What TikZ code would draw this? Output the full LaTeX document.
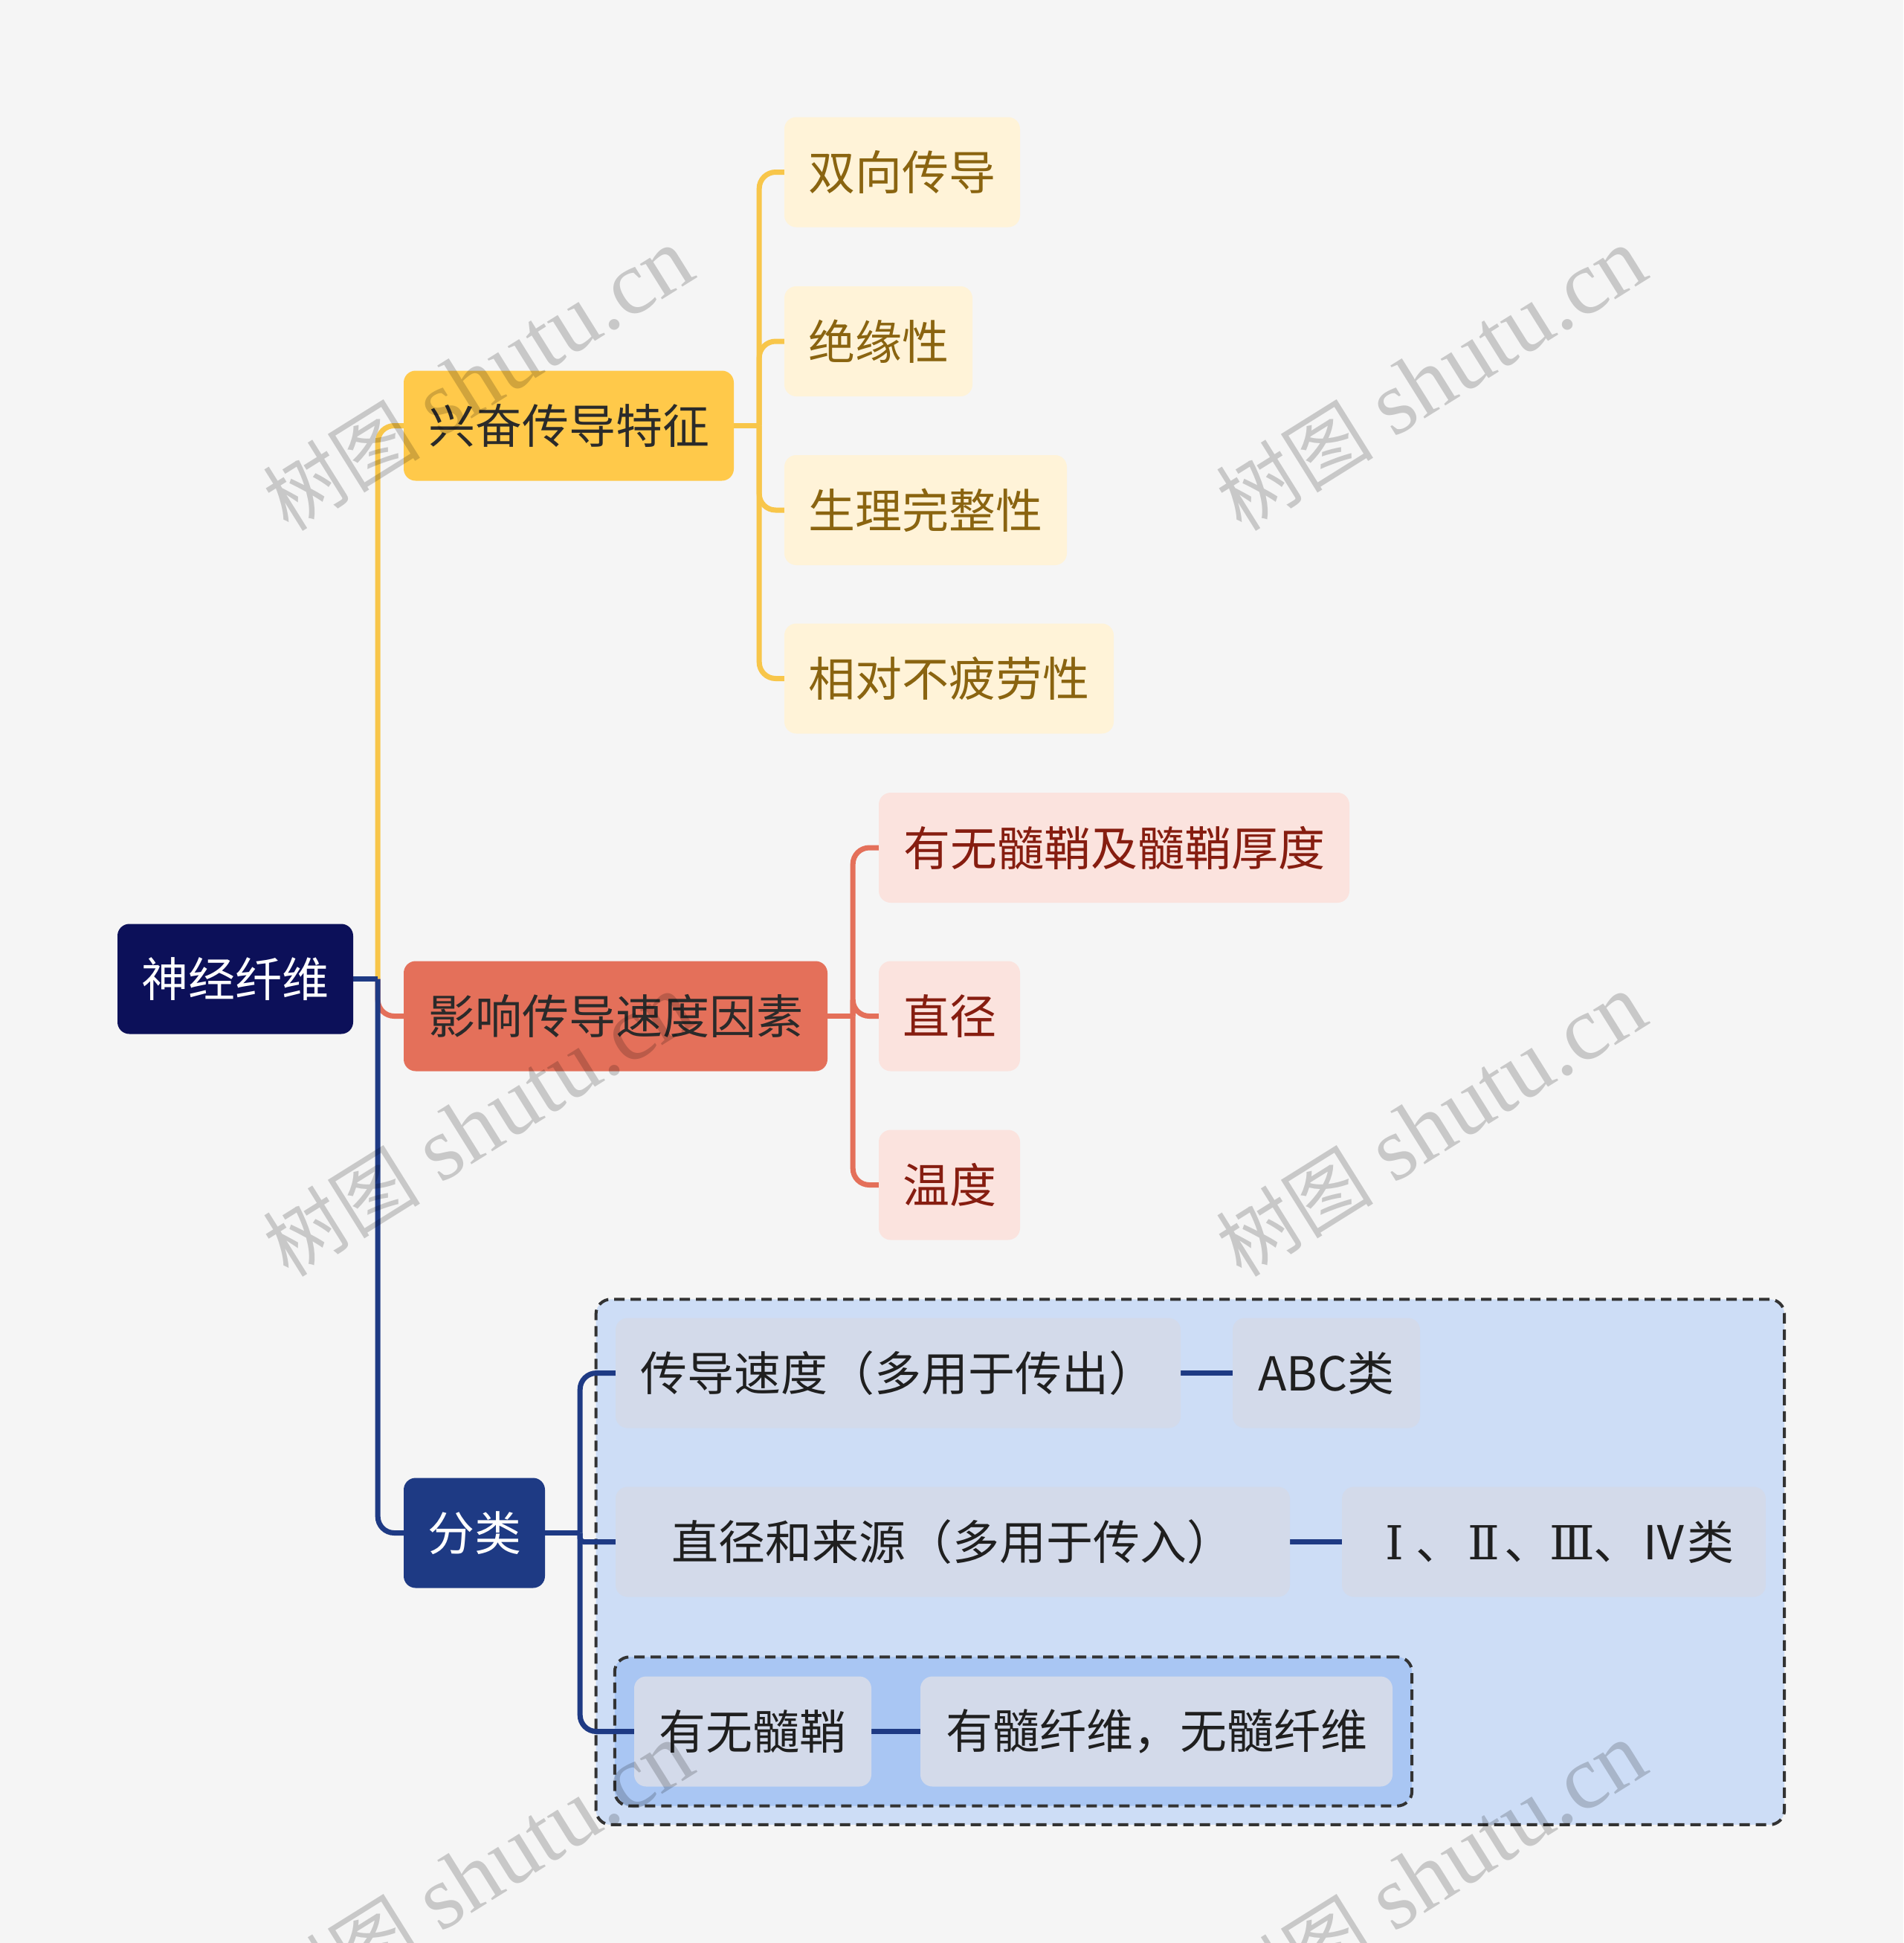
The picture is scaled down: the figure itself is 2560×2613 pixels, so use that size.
\documentclass[tikz,border=0pt]{standalone}
\usepackage{fontspec}
\setmainfont{Noto Sans CJK SC}
\newfontfamily\wmlatin{Liberation Serif}
\newfontfamily\wmcjk{Noto Sans CJK SC}
\newfontfamily\romanfont{DejaVu Serif}
\newcommand\romnum[1]{\makebox[0.9em]{\romanfont #1}}
\usetikzlibrary{fit}
\pgfdeclarelayer{bg}
\pgfdeclarelayer{mid}
\pgfdeclarelayer{wm}
\pgfsetlayers{bg,mid,main,wm}
\definecolor{bgc}{HTML}{F5F5F5}
\definecolor{rootc}{HTML}{0C1059}
\definecolor{yel}{HTML}{FFC94A}
\definecolor{ylinec}{HTML}{F8C64A}
\definecolor{yleaf}{HTML}{FFF3D8}
\definecolor{ytext}{HTML}{8A6410}
\definecolor{redc}{HTML}{E4705A}
\definecolor{rleaf}{HTML}{FBE3DE}
\definecolor{rtext}{HTML}{861D10}
\definecolor{bluc}{HTML}{1E3A84}
\definecolor{bleaf}{HTML}{D3DAEA}
\definecolor{contc}{HTML}{CDDDF6}
\definecolor{innerc}{HTML}{A9C6F3}
\definecolor{darkc}{HTML}{2A2A2A}
\definecolor{dashc}{HTML}{333333}
\tikzset{
  mbox/.style={rounded corners=16pt, inner sep=0pt, minimum height=148pt,
    font=\fontsize{63}{70}\selectfont, align=center},
  rootbox/.style={mbox, fill=rootc, text=white},
  ybig/.style={mbox, fill=yel, text=darkc},
  rbig/.style={mbox, fill=redc, text=darkc},
  bbig/.style={mbox, fill=bluc, text=white},
  yleafbox/.style={mbox, fill=yleaf, text=ytext},
  rleafbox/.style={mbox, fill=rleaf, text=rtext},
  bleafbox/.style={mbox, fill=bleaf, text=black!88},
  yconn/.style={draw=ylinec, line width=7pt, rounded corners=22pt},
  rconn/.style={draw=redc, line width=7pt, rounded corners=22pt},
  bconn/.style={draw=bluc, line width=7pt, rounded corners=22pt},
  groupbox/.style={draw=dashc, line width=4pt, dash pattern=on 14pt off 8pt, rounded corners=20pt, inner sep=25pt},
  wmark/.style={rotate=32, text=black, text opacity=0.18, inner sep=0pt}
}
\begin{document}
\begin{tikzpicture}[x=1pt,y=-1pt]
\useasboundingbox (0,0) rectangle (2560,2613);
\begin{pgfonlayer}{bg}
\fill[bgc] (0,0) rectangle (2560,2613);
\end{pgfonlayer}

% root and first level
\node[rootbox, minimum width=317pt] (root) at (316.5,1316.5) {神经纤维};
\node[ybig, minimum width=444pt] (n1) at (765,572.5) {兴奋传导特征};
\node[rbig, minimum width=570pt] (n2) at (828,1366.5) {影响传导速度因素};
\node[bbig, minimum width=190pt] (n3) at (638,2061.5) {分类};

% yellow leaves
\node[yleafbox, minimum width=317pt] (y1) at (1213.5,231.5) {双向传导};
\node[yleafbox, minimum width=253pt] (y2) at (1181.5,459) {绝缘性};
\node[yleafbox, minimum width=380pt] (y3) at (1245,686) {生理完整性};
\node[yleafbox, minimum width=443pt] (y4) at (1276.5,912.5) {相对不疲劳性};

% red leaves
\node[rleafbox, minimum width=633pt] (r1) at (1498.5,1140) {有无髓鞘及髓鞘厚度};
\node[rleafbox, minimum width=190pt] (r2) at (1277,1366.5) {直径};
\node[rleafbox, minimum width=190pt] (r3) at (1277,1593.5) {温度};

% blue leaves
\node[bleafbox, minimum width=760pt] (b1) at (1208,1846.5) {传导速度（多用于传出）};
\node[bleafbox, minimum width=252pt] (b1r) at (1784,1846.5) {ABC类};
\node[bleafbox, minimum width=907pt] (b2) at (1281.5,2073.5) {直径和来源（多用于传入）};
\node[bleafbox, minimum width=570pt] (b2r) at (2090,2073.5) {\romnum{Ⅰ}、\romnum{Ⅱ}、\romnum{Ⅲ}、Ⅳ类};
\node[bleafbox, minimum width=319pt] (b3) at (1012.5,2328.5) {有无髓鞘};
\node[bleafbox, minimum width=635pt] (b3r) at (1555.5,2328.5) {有髓纤维，无髓纤维};

% junction points
\coordinate (j0) at ([xshift=33pt]root.east);
\coordinate (j1) at ([xshift=34pt]n1.east);
\coordinate (j2) at ([xshift=34pt]n2.east);
\coordinate (j3) at ([xshift=47pt]n3.east);

% group containers
\begin{pgfonlayer}{bg}
\node[fit=(b3)(b3r), inner sep=26pt] (icfit) {};
\node[groupbox, fill=contc, fit=(b1)(b2r)(icfit), inner sep=25pt] (oc) {};
\node[groupbox, fill=innerc, fit=(b3)(b3r), inner sep=26pt] (ic) {};
\end{pgfonlayer}

% connectors
\begin{pgfonlayer}{mid}
\draw[yconn] (j0) |- (n1.west);
\draw[rconn] (j0) |- (n2.west);
\draw[bconn] (j0) |- (n3.west);
\draw[bconn, sharp corners] (root.east) -- (j0);
\foreach \c in {y1,y2,y3,y4} \draw[yconn] (j1) |- (\c.west);
\draw[yconn, sharp corners] (n1.east) -- (j1);
\foreach \c in {r1,r2,r3} \draw[rconn] (j2) |- (\c.west);
\draw[rconn, sharp corners] (n2.east) -- (j2);
\draw[bconn] (j3) |- (b1.west);
\draw[bconn, rounded corners=5pt] (j3) |- (b2.west);
\draw[bconn] (j3) |- (b3.west);
\draw[bconn, sharp corners] (n3.east) -- (j3);
\draw[bconn, sharp corners] (b1.east) -- (b1r.west);
\draw[bconn, sharp corners] (b2.east) -- (b2r.west);
\draw[bconn, sharp corners] (b3.east) -- (b3r.west);
\end{pgfonlayer}

% watermarks
\begin{pgfonlayer}{wm}
\foreach \x/\y [count=\i] in {643/510, 1925/510, 643/1513, 1925/1513, 643/2520, 1925/2520}
  \node[wmark] (wm\i) at (\x,\y) {{\wmcjk\fontsize{106}{112}\selectfont 树图}\hspace{28pt}{\wmlatin\fontsize{122}{126}\selectfont shutu.cn}};
\end{pgfonlayer}
\end{tikzpicture}
\end{document}
